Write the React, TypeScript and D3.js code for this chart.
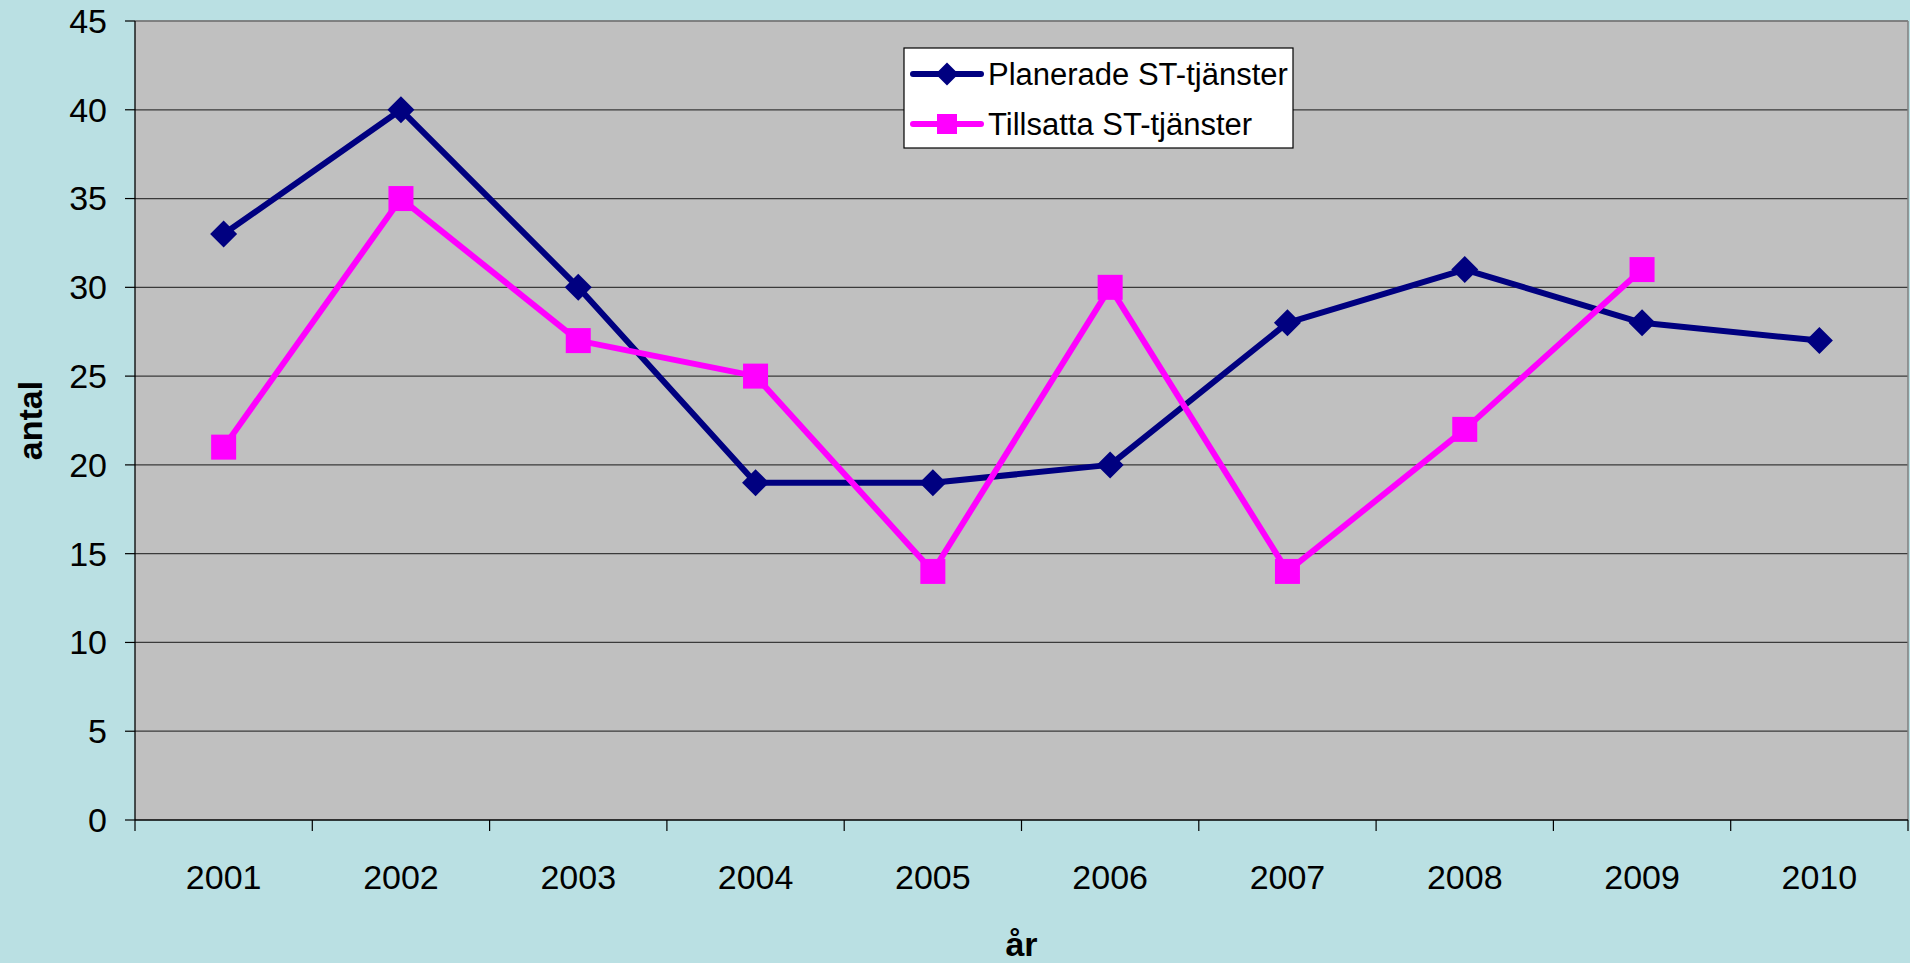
import React from "react";
import * as d3 from "d3";

const years = ["2001", "2002", "2003", "2004", "2005", "2006", "2007", "2008", "2009", "2010"];
const planerade: (number | null)[] = [33, 40, 30, 19, 19, 20, 28, 31, 28, 27];
const tillsatta: (number | null)[] = [21, 35, 27, 25, 14, 30, 14, 22, 31, null];
const yTicks = [0, 5, 10, 15, 20, 25, 30, 35, 40, 45];
const seriesNames = ["Planerade ST-tjänster", "Tillsatta ST-tjänster"];

const W = 1910;
const H = 963;
const L = 135, R = 1908, T = 21, B = 820;
const FONT = "'Liberation Sans', Arial, sans-serif";
const NAVY = "#000080";
const MAG = "#FF00FF";

export default function App() {
  const x = d3.scaleBand<string>().domain(years).range([L, R]).padding(0);
  const y = d3.scaleLinear().domain([0, 45]).range([B, T]);
  const cx = (yr: string) => (x(yr) as number) + x.bandwidth() / 2;

  const line = d3
    .line<[string, number | null]>()
    .defined((d) => d[1] != null)
    .x((d) => cx(d[0]))
    .y((d) => y(d[1] as number));

  const pData = years.map((yr, i) => [yr, planerade[i]] as [string, number | null]);
  const tData = years.map((yr, i) => [yr, tillsatta[i]] as [string, number | null]);

  const diamond = (px: number, py: number, s: number) =>
    `M${px},${py - s}L${px + s},${py}L${px},${py + s}L${px - s},${py}Z`;

  const legX = 904, legY = 48, legW = 389, legH = 100;

  return (
    <div style={{ position: "fixed", left: 0, top: 0 }}>
      <svg width={W} height={H} style={{ display: "block" }}>
        <rect x={0} y={0} width={W} height={H} fill="#BAE0E3" />
        <rect x={L} y={T} width={R - L} height={B - T} fill="#C0C0C0" />
        {yTicks.filter((t) => t > 0).map((t) => (
          <line key={"g" + t} x1={L} x2={R} y1={y(t)} y2={y(t)} stroke="#3a3a3a" strokeWidth={1.2} />
        ))}
        <line x1={L} x2={R} y1={T} y2={T} stroke="#808080" strokeWidth={1.5} />
        <line x1={R} x2={R} y1={T} y2={B} stroke="#808080" strokeWidth={1.5} />
        <line x1={L} x2={L} y1={T} y2={B} stroke="#000" strokeWidth={1.3} />
        <line x1={L} x2={R} y1={B} y2={B} stroke="#000" strokeWidth={1.3} />
        {yTicks.map((t) => (
          <g key={"yt" + t}>
            <line x1={125} x2={L} y1={y(t)} y2={y(t)} stroke="#000" strokeWidth={1.2} />
            <text x={107} y={y(t)} dy="0.35em" textAnchor="end" fontFamily={FONT} fontSize={34} fill="#000">
              {t}
            </text>
          </g>
        ))}
        {years.map((yr) => (
          <line key={"xt" + yr} x1={x(yr) as number} x2={x(yr) as number} y1={B} y2={B + 11} stroke="#000" strokeWidth={1.2} />
        ))}
        <line x1={R} x2={R} y1={B} y2={B + 11} stroke="#000" strokeWidth={1.2} />
        {years.map((yr) => (
          <text key={"xl" + yr} x={cx(yr)} y={889} textAnchor="middle" fontFamily={FONT} fontSize={34} fill="#000">
            {yr}
          </text>
        ))}
        <text
          transform={`translate(42,${(T + B) / 2}) rotate(-90)`}
          textAnchor="middle"
          fontFamily={FONT}
          fontSize={34}
          fontWeight="bold"
          fill="#000"
        >
          antal
        </text>
        <text x={(L + R) / 2} y={956} textAnchor="middle" fontFamily={FONT} fontSize={34} fontWeight="bold" fill="#000">
          år
        </text>
        <path d={line(pData) || ""} fill="none" stroke={NAVY} strokeWidth={6} strokeLinejoin="round" />
        {pData.filter((d) => d[1] != null).map((d) => (
          <path key={"pm" + d[0]} d={diamond(cx(d[0]), y(d[1] as number), 13.5)} fill={NAVY} />
        ))}
        <path d={line(tData) || ""} fill="none" stroke={MAG} strokeWidth={6} strokeLinejoin="round" />
        {tData.filter((d) => d[1] != null).map((d) => (
          <rect key={"tm" + d[0]} x={cx(d[0]) - 12.5} y={y(d[1] as number) - 12.5} width={25} height={25} fill={MAG} />
        ))}
        <rect x={legX} y={legY} width={legW} height={legH} fill="#FFFFFF" stroke="#000" strokeWidth={1.2} />
        <line x1={913} x2={981} y1={74} y2={74} stroke={NAVY} strokeWidth={6} strokeLinecap="round" />
        <path d={diamond(947, 74, 11.5)} fill={NAVY} />
        <text x={988} y={74} dy="0.35em" fontFamily={FONT} fontSize={31} fill="#000">
          {seriesNames[0]}
        </text>
        <line x1={913} x2={981} y1={124} y2={124} stroke={MAG} strokeWidth={6} strokeLinecap="round" />
        <rect x={937} y={114} width={20} height={20} fill={MAG} />
        <text x={988} y={124} dy="0.35em" fontFamily={FONT} fontSize={31} fill="#000">
          {seriesNames[1]}
        </text>
      </svg>
    </div>
  );
}
